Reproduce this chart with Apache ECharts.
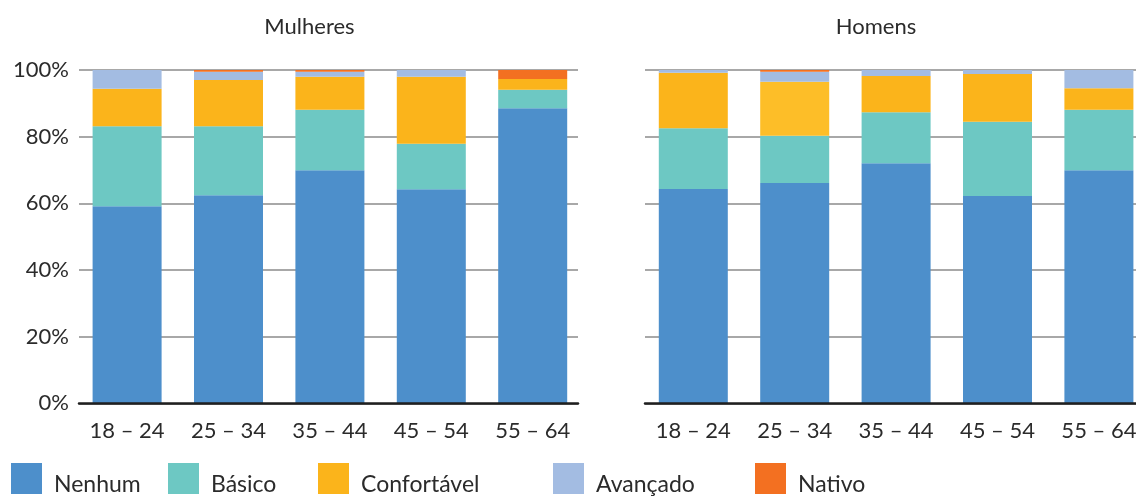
<!DOCTYPE html>
<html>
<head>
<meta charset="utf-8">
<script src="https://cdn.jsdelivr.net/npm/echarts@6/dist/echarts.min.js"></script>
<style>
  html, body { margin: 0; padding: 0; background: #ffffff; overflow: hidden; }
  #chart { width: 1170px; height: 497px; }
</style>
</head>
<body>
<div id="chart"></div>
<script>
// Faixas etárias
const categories = ['18 – 24', '25 – 34', '35 – 44', '45 – 54', '55 – 64'];
const levels = ['Nenhum', 'Básico', 'Confortável', 'Avançado', 'Nativo'];
const yTicks = [0, 20, 40, 60, 80, 100];

// Mulheres (% por nível)
const mulheresNenhum      = [59.1, 62.4, 69.9, 64.2, 88.5];
const mulheresBasico      = [24.0, 20.7, 18.2, 13.7, 5.6];
const mulheresConfortavel = [11.3, 13.9, 9.9, 20.1, 3.2];
const mulheresAvancado    = [5.6, 2.5, 1.5, 2.0, 0];
const mulheresNativo      = [0, 0.5, 0.5, 0, 2.7];

// Homens (% por nível)
const homensNenhum      = [64.3, 66.1, 72.0, 62.2, 69.9];
const homensBasico      = [18.2, 14.2, 15.3, 22.3, 18.2];
const homensConfortavel = [16.7, 16.2, 10.9, 14.3, 6.4];
const homensAvancado    = [0.8, 3.0, 1.8, 1.2, 5.5];
const homensNativo      = [0, 0.5, 0, 0, 0];

const colors = {
  'Nenhum': '#4d8fcb',
  'Básico': '#6dc8c3',
  'Confortável': '#fbb41b',
  'Avançado': '#a3bce2',
  'Nativo': '#f37021'
};

const FONT = 'Lato';
const TEXT = '#2b2b2b';
const TOP = 70;
const HEIGHT = 333.3;

const chart = echarts.init(document.getElementById('chart'), null, { renderer: 'canvas' });

function lineGrid(idx, showLabels) {
  return {
    x: {
      type: 'value', gridIndex: idx, min: 0, max: 1, z: 10,
      axisLine: { show: true, lineStyle: { color: '#1f1f1f', width: 2.5 } },
      axisTick: { show: false }, axisLabel: { show: false }, splitLine: { show: false }
    },
    y: {
      type: 'value', gridIndex: idx, min: 0, max: 100, interval: 20,
      axisLine: { show: false }, axisTick: { show: false },
      axisLabel: {
        show: showLabels, formatter: '{value}%', margin: 10,
        fontFamily: FONT, fontSize: 22, color: TEXT
      },
      splitLine: { show: true, lineStyle: { color: '#a8a8a8', width: 2 } }
    }
  };
}

function barGrid(idx) {
  return {
    x: {
      type: 'category', gridIndex: idx, data: categories,
      axisLine: { show: false }, axisTick: { show: false },
      axisLabel: { margin: 17, fontFamily: FONT, fontSize: 22, color: TEXT, interval: 0 }
    },
    y: {
      type: 'value', gridIndex: idx, min: 0, max: 100,
      show: false, splitLine: { show: false }
    }
  };
}

const gL = lineGrid(0, true), bL = barGrid(1), gR = lineGrid(2, false), bR = barGrid(3);

function stackSeries(axisIdx, stack, values) {
  return levels.map((name, i) => ({
    name: name,
    type: 'bar',
    stack: stack,
    xAxisIndex: axisIdx,
    yAxisIndex: axisIdx,
    barWidth: 69,
    itemStyle: { color: colors[name] },
    emphasis: { disabled: true },
    data: values[i]
  }));
}

const homensSeries = stackSeries(3, 'homens',
  [homensNenhum, homensBasico, homensConfortavel, homensAvancado, homensNativo]);
// a faixa 25 – 34 tem o amarelo um pouco mais claro
homensSeries[2].data = homensConfortavel.map((v, i) =>
  i === 1 ? { value: v, itemStyle: { color: '#fdbe28' } } : v);

// legenda: texto ligeiramente abaixo do centro do quadrado
const legendLefts = [11, 168, 318, 553, 755];
const legends = levels.map((name, i) => ({
  data: [name],
  left: legendLefts[i],
  top: 460.5,
  itemWidth: 31,
  itemHeight: 31,
  icon: 'rect',
  selectedMode: false,
  padding: 0,
  formatter: n => '{s|}\n{t|' + n + '}',
  textStyle: {
    fontFamily: FONT, fontSize: 23, color: TEXT,
    padding: [0, 0, 0, 7],
    rich: {
      s: { lineHeight: 12, fontSize: 10 },
      t: { lineHeight: 26, fontSize: 23, fontFamily: FONT, color: TEXT }
    }
  }
}));

chart.setOption({
  animation: false,
  textStyle: { fontFamily: FONT },
  title: [
    { text: 'Mulheres', left: 304.5, top: 11, textAlign: 'center',
      textStyle: { fontFamily: FONT, fontSize: 22, fontWeight: 'normal', color: TEXT } },
    { text: 'Homens', left: 871, top: 11, textAlign: 'center',
      textStyle: { fontFamily: FONT, fontSize: 22, fontWeight: 'normal', color: TEXT } }
  ],
  legend: legends,
  grid: [
    { left: 79, top: TOP, width: 499, height: HEIGHT },
    { left: 76.4, top: TOP, width: 507, height: HEIGHT },
    { left: 645, top: TOP, width: 510, height: HEIGHT },
    { left: 642.6, top: TOP, width: 507, height: HEIGHT }
  ],
  xAxis: [gL.x, bL.x, gR.x, bR.x],
  yAxis: [gL.y, bL.y, gR.y, bR.y],
  series: [
    ...stackSeries(1, 'mulheres',
      [mulheresNenhum, mulheresBasico, mulheresConfortavel, mulheresAvancado, mulheresNativo]),
    ...homensSeries
  ]
});
</script>
</body>
</html>
